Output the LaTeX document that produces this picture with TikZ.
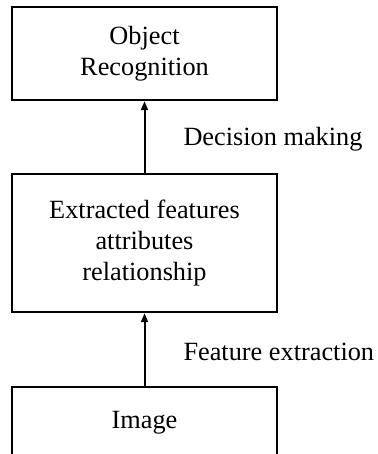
\documentclass[tikz,border=0pt]{standalone}
\usepackage{fontspec}
\setmainfont{Liberation Serif}
\usetikzlibrary{arrows.meta,positioning}

\tikzset{
  blk/.style={draw, line width=1.2pt, minimum width=132.5pt, align=center,
    font=\fontsize{13.15}{15.3}\selectfont},
  flow/.style={line width=1pt, -{Triangle[length=4.5pt,width=3.5pt]}},
  tag/.style={anchor=west, inner sep=0pt, xshift=19pt, yshift=-1pt,
    font=\fontsize{13.15}{15.3}\selectfont}
}

\begin{document}
\begin{tikzpicture}[x=0.5pt, y=-0.5pt]
        \useasboundingbox (0,0) rectangle (377,454);
        \node[blk, minimum height=46.5pt] (obj) at (144.5,53.5) {Object\\Recognition};
        \node[blk, minimum height=69pt] (feat) at (144.5,243) {Extracted features\\attributes\\relationship};
        % image box runs off the bottom edge
        \node[blk, anchor=north, inner ysep=10.5pt, text height=10pt, text depth=30pt] (img) at (144.5,386) {Image};

        \draw[flow] (feat) -- node[tag] (decide) {Decision making} (obj);
        \draw[flow] (img) -- node[tag] (extract) {Feature extraction} (feat);
\end{tikzpicture}
\end{document}
